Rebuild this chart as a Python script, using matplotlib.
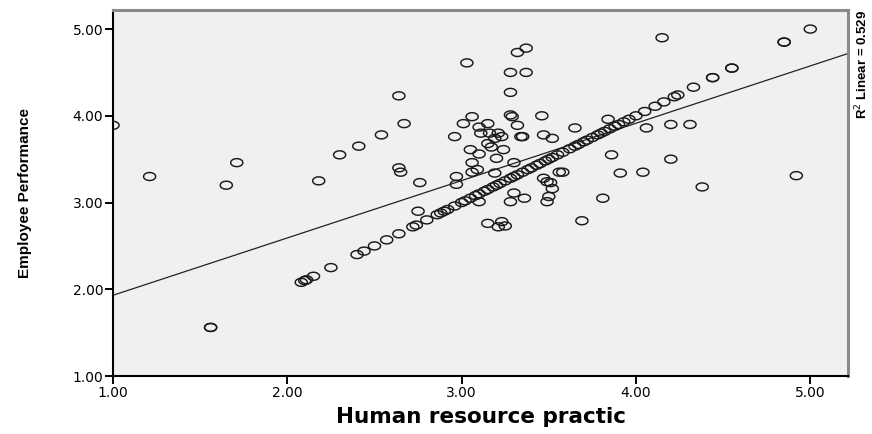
import matplotlib
matplotlib.use('Agg')
import matplotlib.pyplot as plt
import numpy as np
from matplotlib.path import Path

# points off the y = x diagonal (Human resource practic, Employee Performance)
off_hr = [1.00, 1.21, 1.65, 1.71, 1.56, 1.56,
          2.64, 2.67, 2.54, 2.41, 2.30, 2.18, 2.64, 2.65, 2.76, 2.75,
          3.37, 3.32, 3.03, 3.28, 3.37, 3.28, 3.46, 3.28, 3.29,
          3.06, 3.01, 3.10, 3.15, 3.32, 3.65, 2.96,
          3.11, 3.16, 3.21, 3.19, 3.23, 3.34, 3.35, 3.47, 3.52,
          3.05, 3.10, 3.15, 3.17, 3.20, 3.24, 3.06, 3.06, 3.09, 3.19, 3.30,
          2.97, 2.97,
          3.47, 3.49, 3.51, 3.52, 3.50, 3.49, 3.56,
          3.30, 3.36, 3.28, 3.10,
          3.15, 3.21, 3.23, 3.25,
          4.15, 3.84, 4.06, 4.20, 4.31, 3.86, 4.20, 3.58, 3.91, 4.04, 4.38,
          4.92, 3.81, 3.69]
off_perf = [3.89, 3.30, 3.20, 3.46, 1.56, 1.56,
            4.23, 3.91, 3.78, 3.65, 3.55, 3.25, 3.40, 3.35, 3.23, 2.90,
            4.78, 4.73, 4.61, 4.50, 4.50, 4.27, 4.00, 4.01, 3.99,
            3.99, 3.91, 3.87, 3.91, 3.89, 3.86, 3.76,
            3.80, 3.80, 3.80, 3.74, 3.76, 3.76, 3.76, 3.78, 3.74,
            3.61, 3.56, 3.68, 3.64, 3.51, 3.61, 3.46, 3.35, 3.38, 3.34, 3.46,
            3.30, 3.21,
            3.28, 3.24, 3.23, 3.16, 3.07, 3.01, 3.35,
            3.11, 3.05, 3.01, 3.01,
            2.76, 2.72, 2.78, 2.73,
            4.90, 3.96, 3.86, 3.90, 3.90, 3.55, 3.50, 3.35, 3.34, 3.35, 3.18,
            3.31, 3.05, 2.79]

# respondents whose two scores are equal (they sit on the diagonal)
same_score = [2.08, 2.10, 2.11, 2.15, 2.25, 2.40, 2.44, 2.50, 2.57, 2.64,
              2.72, 2.74, 2.80, 2.86, 2.88, 2.90, 2.92, 2.96, 3.00, 3.02,
              3.05, 3.08, 3.10, 3.13, 3.15, 3.18, 3.20, 3.22, 3.25, 3.28,
              3.30, 3.32, 3.35, 3.38, 3.40, 3.43, 3.45, 3.48, 3.50, 3.52,
              3.55, 3.58, 3.62, 3.65, 3.67, 3.70, 3.72, 3.75, 3.78, 3.80,
              3.82, 3.85, 3.88, 3.90, 3.93, 3.96, 4.00, 4.05, 4.11, 4.16,
              4.22, 4.24, 4.33, 4.44, 4.44, 4.55, 4.55, 4.85, 4.85, 5.00]

# fit line as reported
fit_intercept = 1.27
fit_slope = 0.661
r2_text = 'R$^2$ Linear = 0.529'

ticks = [1.00, 2.00, 3.00, 4.00, 5.00]
tick_labels = ['1.00', '2.00', '3.00', '4.00', '5.00']

hr = np.array(off_hr + same_score)
perf = np.array(off_perf + same_score)

# slightly flat circle like the SPSS output
t = np.linspace(0, 2 * np.pi, 60)
ring = Path(np.column_stack([np.cos(t), 0.66 * np.sin(t)]), closed=True)

narrow = ['Liberation Sans', 'DejaVu Sans']

fig = plt.figure(figsize=(8.72, 4.34), dpi=100)
ax = fig.add_axes([0.1296, 0.1336, 0.843, 0.8434])
ax.set_facecolor('#f0f0f0')

ax.scatter(hr, perf, s=76, marker=ring, facecolors='none',
           edgecolors='#1a1a1a', linewidths=1.05, zorder=3)

ax.set_xlim(1.0, 5.217)
ax.set_ylim(1.0, 5.22)
xs = np.array(ax.get_xlim())
ax.plot(xs, fit_intercept + fit_slope * xs, color='#222222', lw=0.9, zorder=2)

ax.set_xticks(ticks)
ax.set_xticklabels(tick_labels)
ax.set_yticks(ticks)
ax.set_yticklabels(tick_labels)
ax.tick_params(direction='out', length=6, width=1.4, labelsize=10,
               colors='black', pad=1)

for side in ['left', 'bottom']:
    ax.spines[side].set_color('black')
    ax.spines[side].set_linewidth(1.5)
for side in ['top', 'right']:
    ax.spines[side].set_color('#8a8a8a')
    ax.spines[side].set_linewidth(2.2)

ax.set_xlabel('Human resource practic', fontsize=15.5, fontweight='bold',
              labelpad=5)
ax.set_ylabel('Employee Performance', family=narrow,
              fontsize=11, fontweight='bold', labelpad=29)

fig.text(0.988, 0.977, r2_text, rotation=90, ha='center', va='top',
         family=narrow, fontsize=9.5, fontweight='bold')

plt.savefig('out.png', dpi=100)
